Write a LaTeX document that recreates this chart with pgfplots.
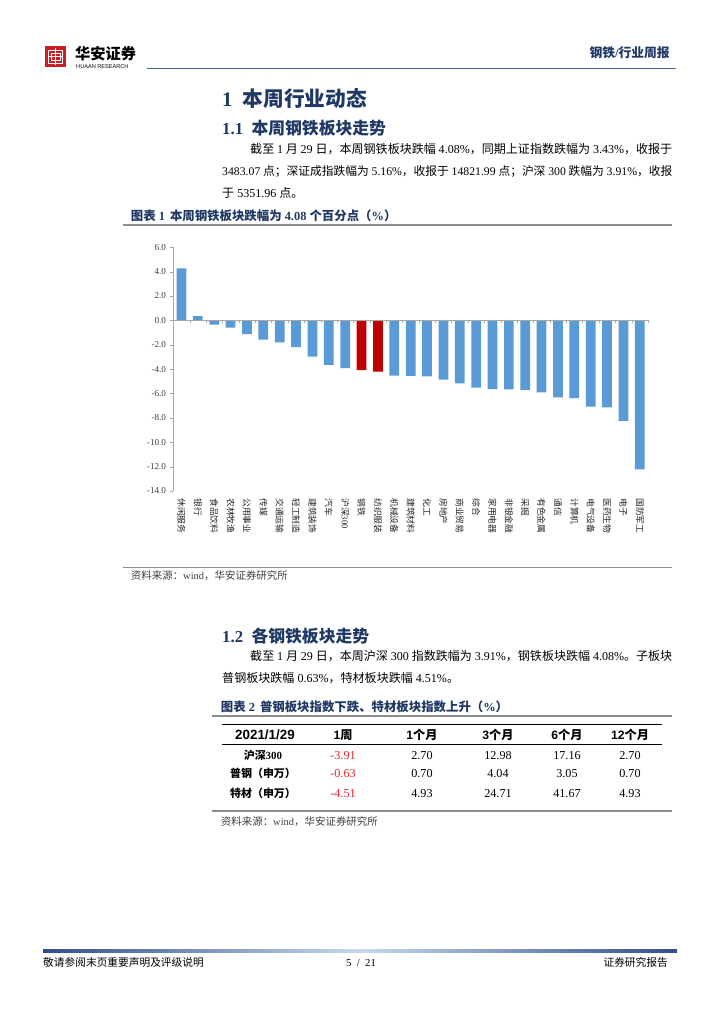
\documentclass[border=0pt]{standalone}
\usepackage{fontspec}
\setmainfont{Liberation Serif}
\setsansfont{Liberation Sans}
\newfontfamily\cjk{Noto Sans CJK SC}
\usepackage{pgfplots}
\pgfplotsset{compat=1.18}

\definecolor{barblue}{HTML}{5B9BD5}
\definecolor{barred}{HTML}{C00000}
\definecolor{navy}{HTML}{1F3864}
\definecolor{axisgray}{HTML}{A6A6A6}
\definecolor{labelgray}{HTML}{404040}
\definecolor{rulegray}{HTML}{8C8C8C}
\definecolor{hdrblue}{HTML}{4A6AA5}
\definecolor{logored}{HTML}{C81E24}
\definecolor{numred}{HTML}{E8262B}
\definecolor{fdark}{HTML}{2F4F8A}
\definecolor{flight}{HTML}{C9D8EC}

% CJK characters switch to the CJK font, everything else stays in Liberation Serif
\newXeTeXintercharclass\CJKcls
\newcount\cjkc
\def\setcjkrange#1#2{\cjkc=#1 \loop\XeTeXcharclass\cjkc=\CJKcls\ifnum\cjkc<#2 \advance\cjkc by 1 \repeat}
\setcjkrange{"4E00}{"9FFF}
\setcjkrange{"3000}{"303F}
\setcjkrange{"FF00}{"FFEF}
\XeTeXinterchartoks 0 \CJKcls = {\cjk}
\XeTeXinterchartoks 4095 \CJKcls = {\cjk}
\XeTeXinterchartoks \CJKcls 0 = {\rmfamily}
\XeTeXinterchartoks \CJKcls 4095 = {\rmfamily}

\newcommand{\fs}[1]{\fontsize{#1}{#1}\selectfont}

\begin{document}
\XeTeXinterchartokenstate=1
\begin{tikzpicture}
\begin{scope}[x=0.8222pt,y=-0.8222pt,every node/.style={inner sep=0pt}]
  \path[use as bounding box,fill=white] (0,0) rectangle (724,1024);
  % header
  \fill[logored] (45,46) rectangle (66,67);
  \draw[white,line width=0.8pt] (48.5,50) rectangle (62.5,63.5);
  \draw[white,line width=0.8pt] (55.5,48) -- (55.5,65.5) (48.5,56.75) -- (62.5,56.75);
  \draw[white,line width=0.6pt] (51,53) rectangle (60,60.5);
  \node[anchor=base west] at (75,60) {\fs{12.5}\bfseries 华安证券};
  \node[anchor=base west] at (76,69) {\sffamily\fs{4.6}HUAAN RESEARCH};
  \draw[hdrblue,line width=0.9pt] (147,68.3) -- (676,68.3);
  \node[anchor=base east,text=navy] at (670,58) {\fs{10.5}\bfseries 钢铁/行业周报};
  % section 1
  \node[anchor=base west,text=navy] at (222,106.5) {\fs{17}\bfseries 1\hspace{0.5em}本周行业动态};
  \node[anchor=base west,text=navy] at (222,135) {\fs{13.8}\bfseries 1.1\hspace{0.5em}本周钢铁板块走势};
  \node[anchor=base west] at (250,153.4) {\fs{9.9}\hbox to 347pt{截至 1 月 29 日，本周钢铁板块跌幅 4.08\%，同期上证指数跌幅为 3.43\%，收报于}};
  \node[anchor=base west] at (222,175.4) {\fs{9.65}\hbox to 370pt{3483.07 点；深证成指跌幅为 5.16\%，收报于 14821.99 点；沪深 300 跌幅为 3.91\%，收报}};
  \node[anchor=base west] at (222,197.4) {\fs{9.9}于 5351.96 点。};
  \node[anchor=base west,text=navy] at (130.7,220.4) {\fs{10.2}\bfseries 图表 1\hspace{0.4em}本周钢铁板块跌幅为 4.08 个百分点（\%）};
  \draw[rulegray,line width=1.1pt] (122.7,225) -- (671.7,225);
  \draw[rulegray,line width=1.1pt] (122.7,567.3) -- (671.7,567.3);
  \node[anchor=base west,text=labelgray] at (130.7,579.5) {\fs{8.6}资料来源：wind，华安证券研究所};
  % section 1.2
  \node[anchor=base west,text=navy] at (222,642.5) {\fs{13.8}\bfseries 1.2\hspace{0.5em}各钢铁板块走势};
  \node[anchor=base west] at (250,660.4) {\fs{9.9}\hbox to 347pt{截至 1 月 29 日，本周沪深 300 指数跌幅为 3.91\%，钢铁板块跌幅 4.08\%。子板块}};
  \node[anchor=base west] at (222,682.4) {\fs{9.9}普钢板块跌幅 0.63\%，特材板块跌幅 4.51\%。};
  \node[anchor=base west,text=navy] at (220.7,711) {\fs{10.2}\bfseries 图表 2\hspace{0.4em}普钢板块指数下跌、特材板块指数上升（\%）};
  \draw[rulegray,line width=1.1pt] (212,716) -- (671.7,716);
  % table
  \draw[black,line width=1.1pt] (222,724.3) -- (662,724.3);
  \draw[black,line width=0.9pt] (222,744.5) -- (662,744.5);
  \node[anchor=base] at (265,739) {\sffamily\bfseries\fs{11}2021/1/29};
  \foreach \cx/\t in {343/1周,422/1个月,498/3个月,567/6个月,630/12个月}
    \node[anchor=base] at (\cx,739) {\sffamily\bfseries\fs{10}\t};
  \node[anchor=base] at (263,759) {\bfseries\fs{9}沪深300};
  \node[anchor=base] at (263,777.5) {\bfseries\fs{9}普钢（申万）};
  \node[anchor=base] at (263,797) {\bfseries\fs{9}特材（申万）};
  \foreach \cx/\a/\b/\c in {343/-3.91/-0.63/-4.51}{
    \node[anchor=base,text=numred] at (\cx,759) {\fs{10}\a};
    \node[anchor=base,text=numred] at (\cx,777.5) {\fs{10}\b};
    \node[anchor=base,text=numred] at (\cx,797) {\fs{10}\c};}
  \foreach \cx/\a/\b/\c in {422/2.70/0.70/4.93,498/12.98/4.04/24.71,567/17.16/3.05/41.67,630/2.70/0.70/4.93}{
    \node[anchor=base] at (\cx,759) {\fs{10}\a};
    \node[anchor=base] at (\cx,777.5) {\fs{10}\b};
    \node[anchor=base] at (\cx,797) {\fs{10}\c};}
  \draw[rulegray,line width=1.1pt] (212,811) -- (671.7,811);
  \node[anchor=base west,text=labelgray] at (220.7,825.5) {\fs{8.6}资料来源：wind，华安证券研究所};
  % footer
  \shade[left color=fdark,right color=fdark,middle color=flight] (43,949.6) rectangle (677,952.4);
  \node[anchor=base west] at (43,966) {\fs{8.8}敬请参阅末页重要声明及评级说明};
  \node[anchor=base] at (361,966) {\fs{8.8}5 \ / \ 21};
  \node[anchor=base east] at (668,966) {\fs{8.8}证券研究报告};
  \coordinate (chartO) at (173.3,491);
\end{scope}

\begin{axis}[
  at={(chartO)}, anchor=south west,
  scale only axis, width=390.3pt, height=200.4pt,
  xmin=-0.5, xmax=28.5, ymin=-14, ymax=6,
  axis y line*=left, axis x line*=bottom,
  x axis line style={draw=none},
  y axis line style={draw=axisgray},
  ytick={-14,-12,...,6},
  /pgf/number format/.cd, fixed, fixed zerofill, precision=1, assume math mode=true,
  /pgfplots/.cd,
  yticklabel style={font=\fs{7.5}, text=labelgray},
  ytick style={draw=axisgray},
  tick align=outside, major tick length=2.5pt,
  xtick={0,...,28},
  xticklabels={休闲服务,银行,食品饮料,农林牧渔,公用事业,传媒,交通运输,轻工制造,建筑装饰,汽车,沪深300,钢铁,纺织服装,机械设备,建筑材料,化工,房地产,商业贸易,综合,家用电器,非银金融,采掘,有色金属,通信,计算机,电气设备,医药生物,电子,国防军工},
  x tick style={draw=none},
  xticklabel style={font=\fs{7.2}, text=black!85, rotate=-90, anchor=west},
]
\addplot[ybar, bar width=8pt, bar shift=0pt, fill=barblue, draw=none] coordinates {
  (0,4.27) (1,0.36) (2,-0.35) (3,-0.60) (4,-1.12) (5,-1.58) (6,-1.80) (7,-2.20)
  (8,-2.97) (9,-3.66) (10,-3.91) (13,-4.53) (14,-4.56) (15,-4.59) (16,-4.86)
  (17,-5.16) (18,-5.52) (19,-5.65) (20,-5.66) (21,-5.71) (22,-5.90) (23,-6.31)
  (24,-6.37) (25,-7.08) (26,-7.13) (27,-8.25) (28,-12.22)};
\addplot[ybar, bar width=8pt, bar shift=0pt, fill=barred, draw=none] coordinates {
  (11,-4.08) (12,-4.20)};
\end{axis}

\begin{axis}[
  at={(chartO)}, anchor=south west,
  scale only axis, width=390.3pt, height=200.4pt,
  xmin=-0.5, xmax=28.5, ymin=-14, ymax=6,
  axis x line=middle, axis y line=none,
  axis line style={-, draw=axisgray, line width=0.8pt},
  xtick={-0.5,0.5,...,28.5}, xticklabels={},
  x tick style={draw=axisgray},
  tick align=outside, major tick length=2.5pt,
  ytick=\empty,
]
\end{axis}
\end{tikzpicture}
\end{document}
